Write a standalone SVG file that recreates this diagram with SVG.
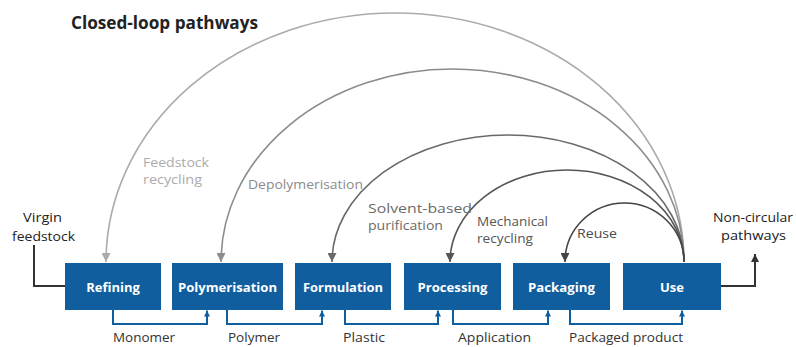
<svg xmlns="http://www.w3.org/2000/svg" width="796" height="347" viewBox="0 0 796 347">
  <style>
    .box { fill: #115e9f; }
    .boxlabel { font-family: "Open Sans", "Noto Sans", sans-serif; font-size: 13px; font-weight: 700; fill: #ffffff; text-anchor: middle; }
    .label { font-family: "Open Sans", "Noto Sans", sans-serif; font-size: 13px; fill: #333333; }
    .small { font-size: 12px; }
    .title { font-family: "Open Sans", "Noto Sans", sans-serif; font-size: 18px; font-weight: 700; fill: #222222; }
    .flow { fill: none; stroke: #115e9f; stroke-width: 2; }
    .edge { fill: none; stroke: #333333; stroke-width: 2; }
    .arc { fill: none; stroke-width: 1.6; }
  </style>
  <defs>
    <marker id="ah-blue" viewBox="0 0 10 10" refX="10" refY="5" markerUnits="userSpaceOnUse" markerWidth="6" markerHeight="6" orient="auto">
      <path d="M0,0 L10,5 L0,10 z" fill="#115e9f"/>
    </marker>
    <marker id="ah-dark" viewBox="0 0 10 10" refX="10" refY="5" markerUnits="userSpaceOnUse" markerWidth="8" markerHeight="8" orient="auto">
      <path d="M0,0 L10,5 L0,10 z" fill="#333333"/>
    </marker>
    <marker id="ah-feed" viewBox="0 0 10 10" refX="10" refY="5" markerUnits="userSpaceOnUse" markerWidth="9" markerHeight="9" orient="auto">
      <path d="M0,0 L10,5 L0,10 z" fill="#ababab"/>
    </marker>
    <marker id="ah-depoly" viewBox="0 0 10 10" refX="10" refY="5" markerUnits="userSpaceOnUse" markerWidth="9" markerHeight="9" orient="auto">
      <path d="M0,0 L10,5 L0,10 z" fill="#8c8c8c"/>
    </marker>
    <marker id="ah-solvent" viewBox="0 0 10 10" refX="10" refY="5" markerUnits="userSpaceOnUse" markerWidth="9" markerHeight="9" orient="auto">
      <path d="M0,0 L10,5 L0,10 z" fill="#6a6a6a"/>
    </marker>
    <marker id="ah-mech" viewBox="0 0 10 10" refX="10" refY="5" markerUnits="userSpaceOnUse" markerWidth="9" markerHeight="9" orient="auto">
      <path d="M0,0 L10,5 L0,10 z" fill="#555555"/>
    </marker>
    <marker id="ah-reuse" viewBox="0 0 10 10" refX="10" refY="5" markerUnits="userSpaceOnUse" markerWidth="9" markerHeight="9" orient="auto">
      <path d="M0,0 L10,5 L0,10 z" fill="#444444"/>
    </marker>
  </defs>

  <rect width="796" height="347" fill="#ffffff"/>

  <text class="title" x="71" y="29" textLength="187" lengthAdjust="spacingAndGlyphs">Closed-loop pathways</text>

  <!-- connectors -->
  <g id="connectors">
    <!-- closed-loop return arcs from Use -->
    <path class="arc" stroke="#ababab" d="M684,262 A289,249 0 0 0 106,262" marker-end="url(#ah-feed)"/>
    <path class="arc" stroke="#8c8c8c" d="M684,262 A231.5,193 0 0 0 221,262" marker-end="url(#ah-depoly)"/>
    <path class="arc" stroke="#6a6a6a" d="M684,262 A176,127 0 0 0 332,262" marker-end="url(#ah-solvent)"/>
    <path class="arc" stroke="#555555" d="M684,262 A117,92 0 0 0 450,262" marker-end="url(#ah-mech)"/>
    <path class="arc" stroke="#444444" d="M684,262 A59.5,59 0 0 0 565,262" marker-end="url(#ah-reuse)"/>

    <!-- linear chain between stages -->
    <path class="flow" d="M113,310 V324 H207 V310.5" marker-end="url(#ah-blue)"/>
    <path class="flow" d="M227,310 V324 H322 V310.5" marker-end="url(#ah-blue)"/>
    <path class="flow" d="M345,310 V324 H438 V310.5" marker-end="url(#ah-blue)"/>
    <path class="flow" d="M453,310 V324 H548 V310.5" marker-end="url(#ah-blue)"/>
    <path class="flow" d="M570,310 V324 H682 V310.5" marker-end="url(#ah-blue)"/>

    <!-- inputs and outputs -->
    <path class="edge" d="M34,245 V286 H65"/>
    <path class="edge" d="M721,286 H755 V254" marker-end="url(#ah-dark)"/>
  </g>

  <!-- stages -->
  <g id="refining">
    <rect class="box" x="65" y="263" width="96" height="47"/>
    <text class="boxlabel" x="113" y="292">Refining</text>
  </g>
  <g id="polymerisation">
    <rect class="box" x="172" y="263" width="111" height="47"/>
    <text class="boxlabel" x="227.5" y="292" textLength="99" lengthAdjust="spacingAndGlyphs">Polymerisation</text>
  </g>
  <g id="formulation">
    <rect class="box" x="295" y="263" width="96" height="47"/>
    <text class="boxlabel" x="343" y="292" textLength="80" lengthAdjust="spacingAndGlyphs">Formulation</text>
  </g>
  <g id="processing">
    <rect class="box" x="404" y="263" width="97" height="47"/>
    <text class="boxlabel" x="452.5" y="292" textLength="70" lengthAdjust="spacingAndGlyphs">Processing</text>
  </g>
  <g id="packaging">
    <rect class="box" x="513" y="263" width="97" height="47"/>
    <text class="boxlabel" x="561.5" y="292" textLength="67" lengthAdjust="spacingAndGlyphs">Packaging</text>
  </g>
  <g id="use">
    <rect class="box" x="623" y="263" width="98" height="47"/>
    <text class="boxlabel" x="672" y="292">Use</text>
  </g>

  <!-- flow labels -->
  <g id="flow-labels">
    <text class="label" x="113" y="342" textLength="62" lengthAdjust="spacingAndGlyphs">Monomer</text>
    <text class="label" x="228" y="342" textLength="52" lengthAdjust="spacingAndGlyphs">Polymer</text>
    <text class="label" x="343" y="342" textLength="42" lengthAdjust="spacingAndGlyphs">Plastic</text>
    <text class="label" x="458" y="342" textLength="73" lengthAdjust="spacingAndGlyphs">Application</text>
    <text class="label" x="569" y="342" textLength="114" lengthAdjust="spacingAndGlyphs">Packaged product</text>
  </g>

  <!-- pathway labels -->
  <g id="pathway-labels">
    <text class="label" style="fill:#ababab" x="143" y="167" textLength="66" lengthAdjust="spacingAndGlyphs">Feedstock</text>
    <text class="label" style="fill:#ababab" x="143" y="184" textLength="59" lengthAdjust="spacingAndGlyphs">recycling</text>
    <text class="label" style="fill:#8c8c8c" x="248" y="189" textLength="115" lengthAdjust="spacingAndGlyphs">Depolymerisation</text>
    <text class="label small" style="fill:#6a6a6a" x="368" y="213" textLength="104" lengthAdjust="spacingAndGlyphs">Solvent-based</text>
    <text class="label small" style="fill:#6a6a6a" x="368" y="230" textLength="75" lengthAdjust="spacingAndGlyphs">purification</text>
    <text class="label small" style="fill:#555555" x="477" y="226" textLength="71" lengthAdjust="spacingAndGlyphs">Mechanical</text>
    <text class="label small" style="fill:#555555" x="477" y="243" textLength="56" lengthAdjust="spacingAndGlyphs">recycling</text>
    <text class="label" style="fill:#4a4a4a" x="577" y="238" textLength="40" lengthAdjust="spacingAndGlyphs">Reuse</text>
  </g>

  <!-- source and sink labels -->
  <g id="io-labels">
    <text class="label" style="fill:#222222" x="23" y="222" textLength="39" lengthAdjust="spacingAndGlyphs">Virgin</text>
    <text class="label" style="fill:#222222" x="12" y="241" textLength="63" lengthAdjust="spacingAndGlyphs">feedstock</text>
    <text class="label" style="fill:#222222" x="713" y="222" textLength="80" lengthAdjust="spacingAndGlyphs">Non-circular</text>
    <text class="label" style="fill:#222222" x="721" y="240" textLength="65" lengthAdjust="spacingAndGlyphs">pathways</text>
  </g>
</svg>
